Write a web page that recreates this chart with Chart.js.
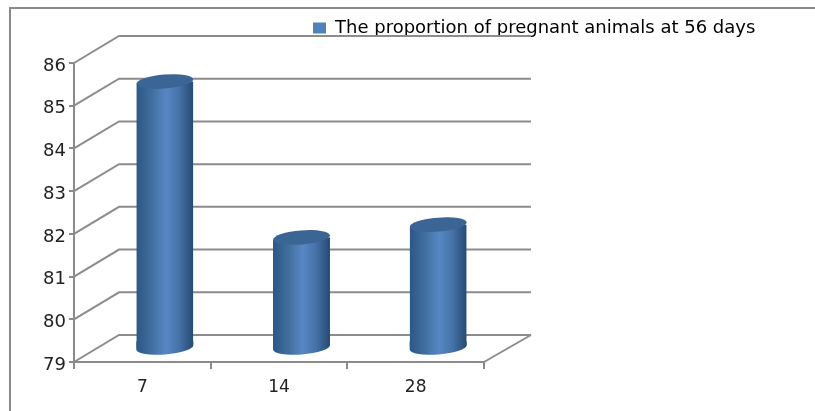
<!DOCTYPE html>
<html lang="en">
<head>
  <meta charset="UTF-8">
  <title>Pregnant animals at 56 days</title>
  <script src="https://cdn.jsdelivr.net/npm/chart.js"></script>
  <style>
    html, body { margin: 0; padding: 0; background: #fff; overflow: hidden; }
    #marco { position: absolute; left: 9px; top: 7px; right: 0; bottom: 0; border-left: 2px solid #8a8a8a; border-top: 2px solid #8a8a8a; }
    canvas { position: absolute; left: 0; top: 0; display: block; }
  </style>
</head>
<body>
  <div id="marco"></div>
  <canvas id="grafico" width="815" height="411"></canvas>

  <script>
    const categorias = ['7', '14', '28'];
    const proporcion = [85.25, 81.6, 81.9];
    const nombreSerie = 'The proportion of pregnant animals at 56 days';
    const yMin = 79, yMax = 86, yPaso = 1;

    // the fake 3d box: how far the back wall sits from the front axes
    const fondoX = 45, fondoY = -27;
    const radioElipse = 7, giro = -0.08;
    const gris = '#8c8c8c', gris2 = '#8a8a8a';
    const fuente = 'DejaVu Sans';

    function degradado(chart, i) {
      const cx = chart.scales.x.getPixelForValue(i), m = 28.5;
      const g = chart.ctx.createLinearGradient(cx - m, 0, cx + m, 0);
      g.addColorStop(0, '#2c5685');
      g.addColorStop(0.28, '#41709f');
      g.addColorStop(0.52, '#5787c4');
      g.addColorStop(0.75, '#4672a8');
      g.addColorStop(1, '#274a73');
      return g;
    }

    function elipse(ctx, x, y, rx) {
      ctx.beginPath();
      ctx.ellipse(x, y, rx, radioElipse, giro, 0, Math.PI * 2);
    }

    // back wall, side wall and floor lines, hung off the y scale
    const caja = {
      id: 'caja',
      beforeDraw(chart) {
        // y labels sit a little below their ticks in the original
        chart.scales.y.getLabelItems().forEach(it => {
          if (!it.movida) { it.options.translation[1] += 3; it.movida = true; }
        });
      },
      beforeDatasetsDraw(chart) {
        const { x, y } = chart.scales;
        const ctx = chart.ctx;
        ctx.save();
        ctx.strokeStyle = gris;
        ctx.lineWidth = 2;
        const izq = x.left, der = x.right;
        for (let v = yMin; v <= yMax; v += yPaso) {
          const py = y.getPixelForValue(v);
          ctx.beginPath();
          ctx.moveTo(izq, py);
          ctx.lineTo(izq + fondoX, py + fondoY);
          ctx.lineTo(der + fondoX + 2, py + fondoY);
          ctx.stroke();
        }
        const suelo = y.getPixelForValue(yMin);
        ctx.beginPath();
        ctx.moveTo(der, suelo);
        ctx.lineTo(der + fondoX + 2, suelo + fondoY);
        ctx.stroke();
        ctx.restore();

        // the bars stand in the middle of the box depth
        ctx.save();
        ctx.translate(fondoX / 2, fondoY / 2);
        const barras = chart.getDatasetMeta(0).data;
        barras.forEach((b, i) => {
          const m = b.width / 2, d = Math.sin(giro) * m;
          ctx.fillStyle = degradado(chart, i);
          elipse(ctx, b.x, b.base, m);
          ctx.fill();
          // fills the wedge between the flat bar end and the tilted base
          ctx.beginPath();
          ctx.moveTo(b.x - m, b.base - 6);
          ctx.lineTo(b.x + m, b.base - 6);
          ctx.lineTo(b.x + m, b.base + d);
          ctx.lineTo(b.x - m, b.base - d);
          ctx.closePath();
          ctx.fill();
        });
        // cut the bar ends to the tilt so lid and base sit clean
        ctx.beginPath();
        barras.forEach(b => {
          const m = b.width / 2, d = Math.sin(giro) * m;
          ctx.moveTo(b.x - m, b.y - d);
          ctx.lineTo(b.x + m, b.y + d);
          ctx.lineTo(b.x + m, b.base + d);
          ctx.lineTo(b.x - m, b.base - d);
          ctx.closePath();
        });
        ctx.clip();
      },
      afterDatasetsDraw(chart) {
        const ctx = chart.ctx;
        ctx.restore();
        ctx.save();
        ctx.translate(fondoX / 2, fondoY / 2);
        chart.getDatasetMeta(0).data.forEach(b => {
          ctx.fillStyle = '#3b6594';
          elipse(ctx, b.x, b.y, b.width / 2);
          ctx.fill();
        });
        ctx.restore();
      },
      afterLayout(chart) {
        // legend floats top right, over the wall lines
        const l = chart.legend;
        l.left = 313; l.right = 815; l.top = 19; l.bottom = 41;
      }
    };

    new Chart(document.getElementById('grafico'), {
      type: 'bar',
      data: {
        labels: categorias,
        datasets: [{
          label: nombreSerie,
          data: proporcion,
          base: yMin,
          backgroundColor: c => degradado(c.chart, c.dataIndex),
          borderWidth: 0,
          categoryPercentage: 1,
          barPercentage: 0.417
        }]
      },
      options: {
        responsive: false,
        animation: false,
        layout: { padding: { left: 0, top: 63, right: 331, bottom: 0 } },
        plugins: {
          title: { display: false },
          tooltip: { enabled: false },
          legend: {
            position: 'chartArea',
            align: 'start',
            labels: {
              boxWidth: 13,
              boxHeight: 11,
              padding: 0,
              color: '#222',
              font: { family: fuente, size: 18 },
              generateLabels: chart => [{
                text: chart.data.datasets[0].label,
                fillStyle: '#4f81bd',
                strokeStyle: '#4f81bd',
                lineWidth: 0,
                datasetIndex: 0
              }]
            }
          }
        },
        scales: {
          x: {
            afterFit: s => { s.height = 49; },
            grid: { drawOnChartArea: false, color: gris2, lineWidth: 2, tickLength: 7 },
            border: { color: gris2, width: 2 },
            ticks: { color: '#222', padding: 8, font: { family: fuente, size: 17 }, maxRotation: 0 }
          },
          y: {
            min: yMin,
            max: yMax,
            afterFit: s => { s.width = 74; },
            grid: { drawOnChartArea: false, color: gris2, lineWidth: 2, tickLength: 5 },
            border: { color: gris2, width: 2 },
            ticks: { stepSize: yPaso, color: '#222', padding: 3, font: { family: fuente, size: 18 } }
          }
        }
      },
      plugins: [caja]
    });
  </script>
</body>
</html>
